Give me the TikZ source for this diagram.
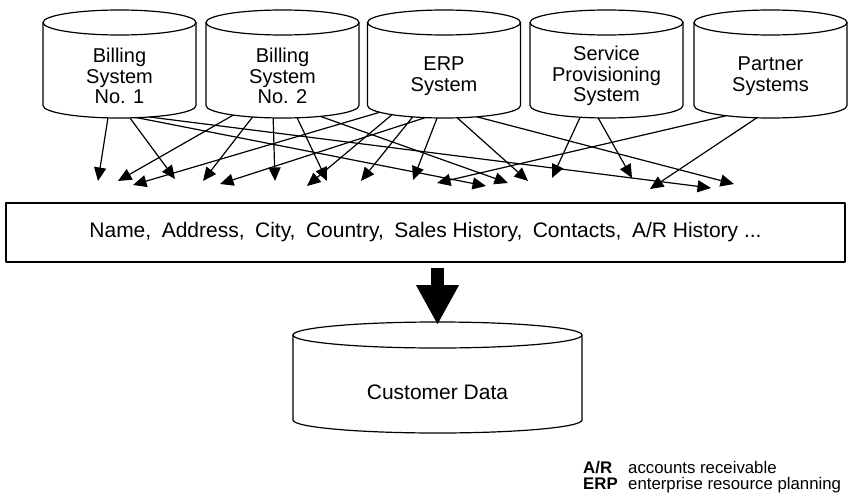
\documentclass[tikz,border=0pt]{standalone}
\usepackage{fontspec}
\setmainfont{Liberation Sans}
\usetikzlibrary{shapes.geometric,arrows.meta,calc}

\begin{document}
\begin{tikzpicture}[x=1pt,y=-1pt,line join=round]
	\tikzset{lid/.style={ellipse,minimum width=153pt,minimum height=25pt,inner sep=0pt,outer sep=0pt},
		drum/.style={line width=1.2pt},
		lbl/.style={align=center,inner sep=0pt,font=\fontsize{20}{20.5}\selectfont},
		feed/.style={line width=1.2pt,-{Triangle[length=13.5pt,width=12pt]}},
		key/.style={anchor=base west,inner sep=0pt,font=\fontsize{16.8}{16}\selectfont}}
	\useasboundingbox (0,0) rectangle (848,495);
	% source systems
	\foreach \nm/\cx/\txt in {b1/119.5/{Billing\\System\\No. 1},b2/282.5/{Billing\\System\\No. 2},erp/444/{ERP\\System},
		sps/606.5/{Service\\Provisioning\\System},ps/770.5/{Partner\\Systems}}{
		\node[lid,draw,drum] (\nm-top) at (\cx,22.5) {};
		\node[lid] (\nm-base) at (\cx,105.5) {};
		\draw[drum] (\nm-top.west) -- (\nm-base.west) arc[start angle=180,end angle=360,x radius=76.5pt,y radius=12.5pt] -- (\nm-top.east);
		\node[lbl] (\nm) at (\cx,76) {\txt};
	}
	% arrow ends above the fields
	\foreach \n/\x/\y in {1/98/181,2/118/181,3/133/185,4/175/179,5/203/181,6/220/184,7/275/181,8/307/186,9/327/181,10/361/181,
		11/413/180,12/437/183,13/486/186,14/508/183,15/528/181,16/552/178,17/632/178,18/650/189,19/711/188,20/734/184}
	\coordinate (t\n) at (\x,\y);
	\foreach \s/\a/\t in {b1/-133/1,b1/-50/4,b1/-35/13,b1/-21/19,
		b2/-169/2,b2/-159/5,b2/-127/7,b2/-40/9,b2/-16/14,
		erp/-174/3,erp/-170/8,erp/-160/10,erp/-147/6,erp/-119/11,erp/-43/15,erp/-19/20,
		sps/-156/16,sps/-124/17,ps/-167/12,ps/-138/18}
	\draw[feed] (\s-base.\a) -- (t\t);
	% fields
	\node[draw,line width=1.3pt,minimum width=839pt,minimum height=59pt,inner sep=0pt,font=\fontsize{21}{20}\selectfont] (fields) at (425.5,232.5)
		{Name,\enspace Address,\enspace City,\enspace Country,\enspace Sales History,\enspace Contacts,\enspace A/R History ...};
	% target
	\node[lid,draw,drum,minimum width=289pt,minimum height=26pt] (db-top) at (437.5,335) {};
	\node[lid,minimum width=289pt,minimum height=26pt] (db-base) at (437.5,420) {};
	\draw[drum] (db-top.west) -- (db-base.west) arc[start angle=180,end angle=360,x radius=144.5pt,y radius=13pt] -- (db-top.east);
	\node[lbl,font=\fontsize{21}{20}\selectfont] (db) at (437.5,392) {Customer Data};
	\draw[line width=13pt,-{Triangle[length=40pt,width=40pt]}] ($(fields.south -| db-top.north)+(0,5)$) -- ($(db-top.north)+(0,3)$);
	% legend
	\node[key] (arkey) at (583,473) {\bfseries A/R};
	\node[key] (ardef) at (628,473) {accounts receivable};
	\node[key] (erpkey) at (583,489) {\bfseries ERP};
	\node[key] (erpdef) at (628,489) {enterprise resource planning};
\end{tikzpicture}
\end{document}
